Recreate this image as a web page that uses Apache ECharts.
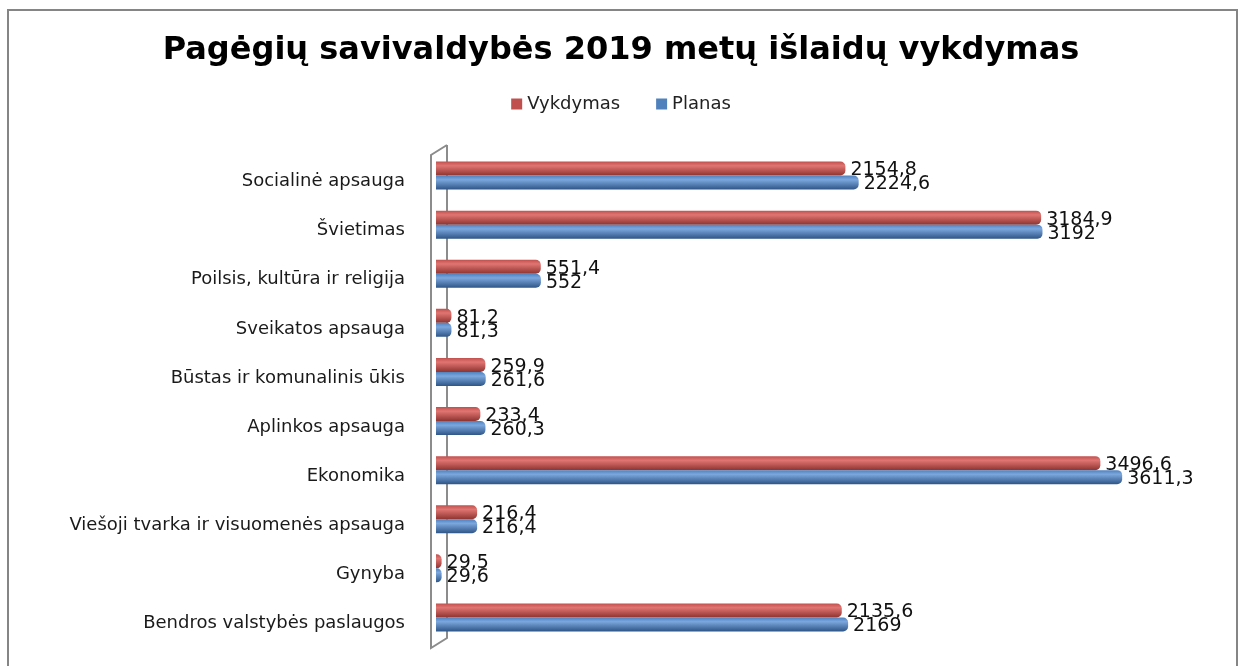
<!DOCTYPE html>
<html>
<head>
<meta charset="utf-8">
<script src="https://cdn.jsdelivr.net/npm/echarts@6/dist/echarts.min.js"></script>
<style>
  html, body { margin: 0; padding: 0; background: #fff; }
  #chart { width: 1242px; height: 666px; }
</style>
</head>
<body>
<div id="chart"></div>
<script>
// kategorijos is apacios i virsu (kaip Excel'yje)
const categories = [
  'Bendros valstybės paslaugos',
  'Gynyba',
  'Viešoji tvarka ir visuomenės apsauga',
  'Ekonomika',
  'Aplinkos apsauga',
  'Būstas ir komunalinis ūkis',
  'Sveikatos apsauga',
  'Poilsis, kultūra ir religija',
  'Švietimas',
  'Socialinė apsauga'
]
const vykdymas = [2135.6, 29.5, 216.4, 3496.6, 233.4, 259.9, 81.2, 551.4, 3184.9, 2154.8]
const planas = [2169, 29.6, 216.4, 3611.3, 260.3, 261.6, 81.3, 552, 3192, 2224.6]

const RED = '#c0504d'
const BLUE = '#4f81bd'

const chart = echarts.init(document.getElementById('chart'))

const fmt = (p) => String(p.value).replace('.', ',')

const grad = (light, mid, dark) => new echarts.graphic.LinearGradient(0, 0, 0, 1, [
  { offset: 0, color: mid },
  { offset: 0.3, color: light },
  { offset: 1, color: dark }
])

const labelStyle = {
  show: true,
  position: 'right',
  distance: 5,
  offset: [0, 2],
  color: '#111',
  fontFamily: 'DejaVu Sans',
  fontSize: 19,
  formatter: fmt
}

const option = {
  animation: false,
  title: {
    text: 'Pagėgių savivaldybės 2019 metų išlaidų vykdymas',
    left: 'center',
    top: 30,
    textStyle: {
      fontFamily: 'DejaVu Sans',
      fontWeight: 'bold',
      fontSize: 32,
      color: '#000'
    }
  },
  legend: {
    data: [
      { name: 'Vykdymas', itemStyle: { color: RED } },
      { name: 'Planas', itemStyle: { color: BLUE } }
    ],
    top: 90,
    left: 'center',
    itemWidth: 11,
    itemHeight: 11,
    itemGap: 36,
    icon: 'rect',
    textStyle: { fontFamily: 'DejaVu Sans', fontSize: 18, color: '#222' }
  },
  graphic: [
    {
      type: 'rect',
      shape: { x: 8, y: 10, width: 1229, height: 680 },
      style: { fill: 'none', stroke: '#858585', lineWidth: 2 }
    },
    // "3D" sienele prie asies
    {
      type: 'polyline',
      z: 0,
      shape: { points: [[447, 145], [431, 155], [431, 648], [447, 638], [447, 145]] },
      style: { fill: 'none', stroke: '#8c8c8c', lineWidth: 2 }
    }
  ],
  grid: { left: 436, right: 46, top: 151, bottom: 24 },
  xAxis: {
    type: 'value',
    min: 0,
    max: 4000,
    show: false
  },
  yAxis: {
    type: 'category',
    data: categories,
    axisLine: { show: false },
    axisTick: { show: false },
    axisLabel: {
      margin: 31,
      formatter: (v) => '{c|' + v + '}',
      rich: {
        c: {
          fontFamily: 'DejaVu Sans',
          fontSize: 18,
          color: '#1a1a1a',
          padding: [12, 0, 0, 0]
        }
      }
    }
  },
  series: [
    {
      name: 'Vykdymas',
      type: 'bar',
      data: vykdymas,
      barWidth: 14,
      barGap: '0%',
      z: 3,
      itemStyle: {
        color: grad('#e07572', RED, '#8e3431'),
        borderRadius: [0, 5, 5, 0]
      },
      label: labelStyle
    },
    {
      name: 'Planas',
      type: 'bar',
      data: planas,
      barWidth: 14,
      barGap: '0%',
      z: 3,
      itemStyle: {
        color: grad('#7ba7dd', BLUE, '#2f5587'),
        borderRadius: [0, 5, 5, 0]
      },
      label: labelStyle
    }
  ]
}

chart.setOption(option)
</script>
</body>
</html>
